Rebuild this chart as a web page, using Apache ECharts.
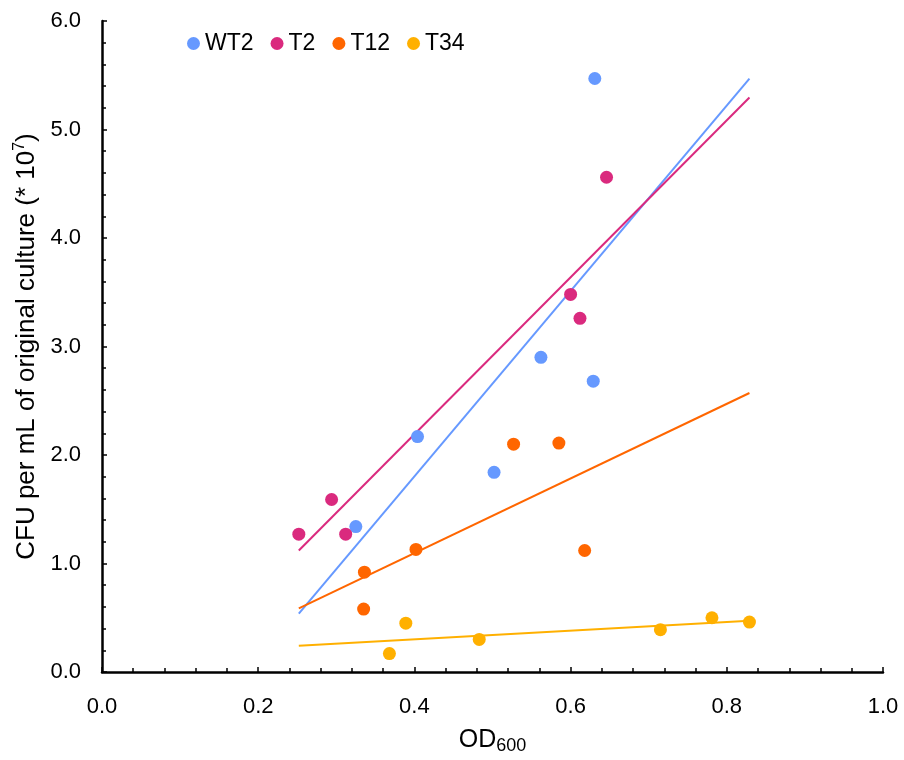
<!DOCTYPE html>
<html>
<head>
<meta charset="utf-8">
<script src="https://cdn.jsdelivr.net/npm/echarts@6/dist/echarts.min.js"></script>
<style>html,body{margin:0;padding:0;background:#fff}#c{width:904px;height:760px}</style>
</head>
<body>
<div id="c"></div>
<script>
const seriesNames = ['WT2', 'T2', 'T12', 'T34'];
const wt2X = [0.325, 0.404, 0.502, 0.562, 0.629, 0.631];
const wt2Y = [1.34, 2.17, 1.84, 2.90, 2.68, 5.47];
const t2X = [0.252, 0.294, 0.312, 0.600, 0.612, 0.646];
const t2Y = [1.27, 1.59, 1.27, 3.48, 3.26, 4.56];
const t12X = [0.336, 0.335, 0.402, 0.527, 0.585, 0.618];
const t12Y = [0.92, 0.58, 1.13, 2.10, 2.11, 1.12];
const t34X = [0.368, 0.389, 0.483, 0.715, 0.781, 0.829];
const t34Y = [0.17, 0.45, 0.30, 0.39, 0.50, 0.46];
const xTicks = ['0.0', '0.2', '0.4', '0.6', '0.8', '1.0'];
const yTicks = ['0.0', '1.0', '2.0', '3.0', '4.0', '5.0', '6.0'];

const colors = ['#6699FF', '#DA2A7E', '#FF6600', '#FFB000'];
const FONT = "'Liberation Sans', Arial, sans-serif";
const allX = [wt2X, t2X, t12X, t34X];
const allY = [wt2Y, t2Y, t12Y, t34Y];

function pairs(xs, ys) { return xs.map((x, i) => [x, ys[i]]); }
// least-squares trendline spanning the overall x range of the data
const flatX = [].concat(...allX);
const xMin = Math.min(...flatX), xMax = Math.max(...flatX);
function trend(xs, ys) {
  const n = xs.length;
  const mx = xs.reduce((a, b) => a + b, 0) / n;
  const my = ys.reduce((a, b) => a + b, 0) / n;
  let sxy = 0, sxx = 0;
  for (let i = 0; i < n; i++) { sxy += (xs[i] - mx) * (ys[i] - my); sxx += (xs[i] - mx) ** 2; }
  const b = sxy / sxx, a = my - b * mx;
  return [[xMin, a + b * xMin], [xMax, a + b * xMax]];
}

const series = [];
seriesNames.forEach((name, i) => {
  series.push({
    name: name, type: 'scatter', data: pairs(allX[i], allY[i]),
    symbol: 'circle', symbolSize: 13, color: colors[i],
    itemStyle: { color: colors[i], opacity: 1 }, z: 3
  });
});
seriesNames.forEach((name, i) => {
  series.push({
    name: name + ' trend', type: 'line', data: trend(allX[i], allY[i]),
    showSymbol: false, symbol: 'none', silent: true, color: colors[i],
    lineStyle: { color: colors[i], width: 2 }, z: 2
  });
});

const chart = echarts.init(document.getElementById('c'), null, { renderer: 'canvas' });
chart.setOption({
  animation: false,
  backgroundColor: '#fff',
  color: colors.concat(colors),
  textStyle: { fontFamily: FONT },
  grid: { left: 102, right: 21, top: 21, bottom: 85, containLabel: false },
  legend: {
    data: seriesNames.map(n => ({ name: n, icon: 'circle' })),
    left: 182, top: 27, itemWidth: 13, itemHeight: 13, itemGap: 17,
    textStyle: { fontSize: 23, color: '#000', fontFamily: FONT }
  },
  xAxis: {
    type: 'value', min: 0, max: 1, interval: 0.2,
    axisLine: { show: true, lineStyle: { color: '#000', width: 2.5 } },
    axisTick: { show: true, inside: true, length: 5, lineStyle: { color: '#000', width: 1.5 } },
    minorTick: { show: true, splitNumber: 5, length: 4, lineStyle: { color: '#000', width: 1.5 } },
    splitLine: { show: false },
    axisLabel: { margin: 24, fontSize: 22, color: '#000', fontFamily: FONT,
      formatter: v => xTicks[Math.round(v / 0.2)] },
    name: '{a|OD}{sub|600}', nameLocation: 'middle', nameGap: 53,
    nameTextStyle: { color: '#000', fontFamily: FONT,
      rich: { a: { fontSize: 25, color: '#000', fontFamily: FONT },
              sub: { fontSize: 18, color: '#000', fontFamily: FONT, padding: [12, 0, 0, 0] } } }
  },
  yAxis: {
    type: 'value', min: 0, max: 6, interval: 1,
    axisLine: { show: true, lineStyle: { color: '#000', width: 2.5 } },
    axisTick: { show: true, inside: true, length: 5, lineStyle: { color: '#000', width: 1.5 } },
    minorTick: { show: true, splitNumber: 5, length: 4, lineStyle: { color: '#000', width: 1.5 } },
    splitLine: { show: false },
    axisLabel: { margin: 21, fontSize: 22, color: '#000', fontFamily: FONT,
      formatter: v => yTicks[Math.round(v)] },
    name: '{a|CFU per mL of original culture (* 10}{sup|7}{a|)}', nameLocation: 'middle', nameGap: 60,
    nameTextStyle: { color: '#000', fontFamily: FONT,
      rich: { a: { fontSize: 26, color: '#000', fontFamily: FONT },
              sup: { fontSize: 16, color: '#000', fontFamily: FONT, padding: [0, 0, 13, 0] } } }
  },
  series: series
});
</script>
</body>
</html>
